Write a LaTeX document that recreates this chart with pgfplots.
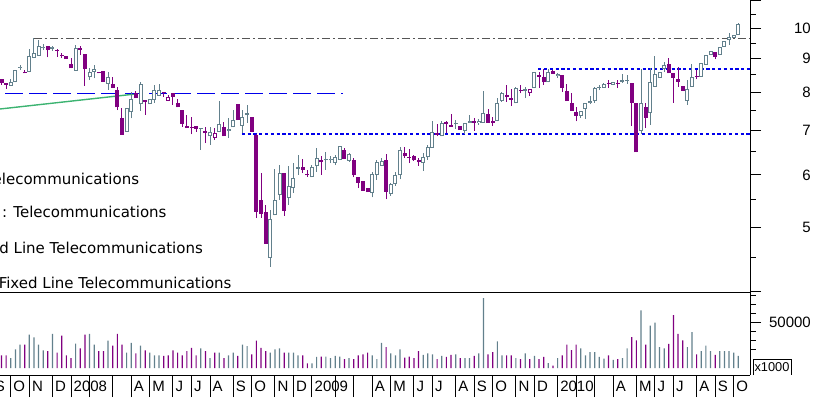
\documentclass[border=0pt]{standalone}
\usepackage{pgfplots}
\pgfplotsset{compat=1.18}
\usepackage{pgfplotstable}
\usepackage{fontspec}
\setmainfont{Liberation Sans}
\newfontfamily\legendfont{DejaVu Sans}
\definecolor{cgrey}{RGB}{98,128,140}
\definecolor{cpurp}{RGB}{128,0,128}
\definecolor{cgreen}{RGB}{60,179,113}
\definecolor{cdash}{RGB}{85,85,85}
\definecolor{cblue}{RGB}{0,0,235}

% i = weekly bar index (0 = week of 17 Sep 2007), o h l c = prices, v = volume
% grey hollow (up)
\pgfplotstableread{
i o h l c v
2 8.19 8.37 8.19 8.28 10800
3 8.28 8.65 8.28 8.65 20520
4 8.71 8.80 8.65 8.74 25920
6 8.58 9.29 8.58 9.08 36720
7 9.01 9.66 9.01 9.17 33840
8 9.09 9.60 9.09 9.40 25920
9 9.35 9.46 9.27 9.38 19440
11 9.32 9.40 9.24 9.35 37800
16 8.63 9.44 8.63 9.35 27000
19 8.43 8.70 8.35 8.60 37800
20 8.60 8.80 8.40 8.68 25920
23 8.23 8.60 8.07 8.45 30240
27 6.98 7.57 6.98 7.57 16920
28 7.46 8.02 7.31 7.82 27720
30 7.67 8.30 7.50 8.23 24840
32 7.67 7.82 7.67 7.82 16920
33 7.79 8.21 7.71 8.07 14040
34 7.91 8.23 7.91 8.07 14040
45 6.86 7.10 6.66 6.96 10800
47 6.98 7.75 6.98 7.17 16920
49 7.00 7.31 6.82 7.03 14040
50 7.08 7.52 7.08 7.27 16920
52 7.12 7.52 6.94 7.34 25920
58 4.49 5.31 4.36 5.14 16920
59 5.21 6.12 5.21 5.50 20520
60 5.60 6.21 5.50 6.04 21600
62 5.54 6.18 5.41 5.78 16920
63 5.74 6.25 5.64 5.93 16920
67 5.95 6.21 5.95 6.16 5040
68 6.18 6.58 6.07 6.36 12240
71 6.31 6.40 6.25 6.33 10800
72 6.25 6.43 6.21 6.38 13320
73 6.32 6.64 6.32 6.64 12600
75 6.30 6.48 6.28 6.46 10800
80 5.63 6.07 5.55 6.01 14040
81 6.00 6.31 5.90 6.27 9720
82 6.20 6.36 6.19 6.30 27720
84 5.61 5.84 5.58 5.81 16200
85 5.81 6.07 5.78 6.00 14040
86 5.99 6.62 5.91 6.55 20520
91 6.25 6.47 6.09 6.38 14400
92 6.38 6.66 6.32 6.61 16200
93 6.60 7.25 6.60 6.98 15120
95 6.86 7.25 6.86 7.19 13320
100 7.00 7.20 6.91 7.20 10800
101 7.20 7.40 7.19 7.23 10800
103 7.19 7.30 7.14 7.25 16200
104 7.19 8.04 7.19 7.44 77040
107 7.23 7.84 7.23 7.70 29520
108 7.77 8.02 7.74 7.99 14040
111 7.70 8.14 7.70 8.12 10800
115 8.12 8.58 8.12 8.58 13320
118 8.28 8.69 8.28 8.60 5400
120 8.47 8.57 8.41 8.53 10800
125 7.38 7.50 7.32 7.50 21600
126 7.55 7.72 7.30 7.72 14040
127 7.71 7.91 7.68 7.75 17640
128 7.76 8.16 7.72 8.11 17640
130 8.13 8.27 8.13 8.25 10440
132 8.21 8.30 8.20 8.29 9000
138 6.99 8.69 6.93 7.71 63720
140 7.44 8.71 7.14 8.28 46800
141 8.16 9.09 8.16 8.52 50040
142 8.42 8.58 8.42 8.58 23040
143 8.68 8.90 8.60 8.80 21600
148 7.76 8.35 7.66 8.10 23040
149 8.16 8.82 8.16 8.45 39600
151 8.45 8.85 8.45 8.85 18720
152 8.80 9.11 8.80 9.11 24840
153 9.11 9.24 9.11 9.24 18720
155 9.11 9.38 9.11 9.38 18720
156 9.38 9.58 9.38 9.58 18720
157 9.60 9.84 9.44 9.71 18720
158 9.66 9.77 9.66 9.77 16920
159 9.77 10.20 9.77 10.14 13320
}\tgh
% grey filled
\pgfplotstableread{
i o h l c v
43 7.07 7.07 6.55 7.05 21600
53 7.44 7.66 7.19 7.40 24120
64 6.16 6.43 6.00 6.12 14040
70 6.33 6.49 6.11 6.31 12600
98 7.19 7.27 7.04 7.16 15120
113 8.08 8.16 7.84 8.05 16200
129 8.16 8.22 8.06 8.13 12240
134 8.34 8.52 8.27 8.29 10800
135 8.35 8.51 8.25 8.32 21600
}\tgf
% purple filled (down)
\pgfplotstableread{
i o h l c v
0 8.38 8.38 8.21 8.26 14040
1 8.26 8.27 8.10 8.21 14040
5 8.60 8.65 8.55 8.55 25920
10 9.40 9.40 9.04 9.27 18720
12 9.27 9.30 9.06 9.24 16920
13 9.11 9.17 9.01 9.08 35640
14 9.08 9.08 8.98 8.98 14040
15 8.82 9.02 8.70 8.70 10800
17 9.35 9.40 9.11 9.27 21600
18 9.14 9.14 8.19 8.67 36720
21 8.60 8.60 8.55 8.55 18720
22 8.63 8.63 8.30 8.30 18720
24 8.23 8.45 8.13 8.13 24840
25 8.07 8.16 7.52 7.59 37800
26 7.31 7.57 6.90 6.90 25920
29 7.97 8.04 7.84 7.84 16200
31 7.79 7.79 7.40 7.73 19440
35 8.01 8.02 7.88 7.97 13320
37 7.97 7.97 7.66 7.88 19440
38 7.72 7.82 7.59 7.59 16920
39 7.52 7.52 7.10 7.17 14040
40 7.12 7.40 7.06 7.06 18720
41 7.10 7.35 6.91 7.07 22320
42 7.12 7.12 6.98 7.04 14040
44 7.00 7.10 6.70 6.94 18720
48 7.10 7.22 6.86 6.86 10800
51 7.68 7.68 7.26 7.26 13320
54 7.33 7.33 6.98 6.98 15120
55 6.90 6.93 5.16 5.28 30240
56 5.50 6.04 5.17 5.24 22320
57 5.28 5.41 4.72 4.72 18720
61 6.04 6.04 5.20 5.30 16920
65 6.16 6.34 6.04 6.11 14040
66 6.01 6.11 5.96 5.99 5040
69 6.32 6.41 6.00 6.27 12600
74 6.55 6.59 6.34 6.34 9720
76 6.32 6.36 5.95 5.99 9720
77 5.96 5.96 5.73 5.83 14040
78 5.87 5.87 5.68 5.68 15120
79 5.73 5.73 5.65 5.65 16920
83 6.32 6.46 5.51 5.66 23040
87 6.47 6.62 6.36 6.40 11520
88 6.39 6.57 6.25 6.36 12600
89 6.41 6.43 6.30 6.31 10800
90 6.31 6.37 6.20 6.27 18720
94 6.94 7.17 6.87 6.90 9720
96 7.21 7.23 6.95 7.17 12240
97 7.14 7.41 7.10 7.10 14400
99 7.12 7.12 7.02 7.02 10800
102 7.23 7.31 7.00 7.19 13320
105 7.42 7.54 7.19 7.20 15120
106 7.25 7.35 7.12 7.19 17640
109 7.93 8.21 7.74 7.88 14040
110 7.84 8.09 7.64 7.79 14040
112 8.07 8.21 7.97 8.04 9720
116 8.50 8.58 8.12 8.45 9720
117 8.43 8.68 8.21 8.28 12240
119 8.62 8.65 8.53 8.53 2520
121 8.50 8.50 8.02 8.12 14040
122 8.04 8.24 7.76 7.76 25920
123 7.72 7.97 7.50 7.50 19800
124 7.47 7.61 7.23 7.38 25920
131 8.26 8.34 8.13 8.23 14040
133 8.27 8.34 8.13 8.24 9720
136 8.27 8.27 7.11 7.71 34200
137 7.71 7.71 6.49 6.49 30600
139 7.61 7.71 7.06 7.32 25920
144 8.82 9.01 8.55 8.55 26640
145 8.55 8.55 7.72 8.42 58320
146 8.38 8.75 8.16 8.30 37800
147 8.19 8.19 8.04 8.04 30600
150 8.47 8.65 8.37 8.44 15120
154 9.22 9.22 8.98 9.06 14400
}\tpf
% purple hollow
\pgfplotstableread{
i o h l c v
36 7.77 7.93 7.76 7.87 14040
46 6.82 7.06 6.78 6.95 16920
114 7.99 8.09 7.91 8.09 9720
}\tph

\pgfplotsset{
  bars/.style 2 args={forget plot, draw=none, mark=none,
    error bars/.cd, y dir=plus, y explicit, error mark=none,
    error bar style={line width=#2, draw=#1, solid}},
  common/.style={scale only axis, width=750bp, xmin=-0.324, xmax=161.52,
    axis line style={line width=1bp, black, -},
    tick align=outside, major tick length=11bp, minor tick length=5.5bp,
    every tick/.append style={black, line width=1bp},
    yticklabel style={anchor=east, inner sep=0pt, xshift=50bp,
      font=\fontsize{15bp}{18bp}\selectfont}},
}
% wick: low to high
\newcommand{\wicks}[2]{\addplot[bars={#2}{1bp}] table[x=i, y expr={ln(\thisrow{l})},
  y error plus expr={ln(\thisrow{h})-ln(\thisrow{l})}] {#1};}
% body: open to close (at least one pixel)
\newcommand{\bodies}[2]{\addplot[bars={#2}{4bp}] table[x=i,
  y expr={ln(min(\thisrow{o},\thisrow{c}))},
  y error plus expr={max(abs(ln(\thisrow{o})-ln(\thisrow{c})),0.0035)}] {#1};}
% white inside of hollow bodies
\newcommand{\holes}[1]{\addplot[bars={white}{2bp}] table[x=i,
  y expr={ln(min(\thisrow{o},\thisrow{c}))+0.0035},
  y error plus expr={max(abs(ln(\thisrow{o})-ln(\thisrow{c}))-0.007,0.00001)}] {#1};}
\newcommand{\vols}[2]{\addplot[ybar, bar width=1.2bp, bar shift=0pt, fill=#2, draw=none, forget plot]
  table[x=i, y=v] {#1};}
\newcommand{\refline}[5]{\addplot[#1, forget plot] table[row sep=\\, y expr={ln(\thisrow{p})}] {x p\\ #2 #4\\ #3 #5\\};}

\begin{document}
\begin{tikzpicture}[x=1bp, y=1bp]
% ---------- price panel (logarithmic price scale) ----------
\begin{axis}[common, at={(0bp,397bp)}, anchor=north west, height=292bp,
  ymin=1.38379, ymax=2.40112,
  axis x line*=bottom, axis y line*=right, xtick=\empty,
  ytick={1.386294,1.609438,1.791759,1.945910,2.079442,2.197225,2.302585,2.397895},
  yticklabels={{},5,6,7,8,9,10,{}},
  minor ytick={1.504077,1.704748,1.871802,2.014903,2.140066,2.251292,2.351375}]
  \refline{cgreen, line width=1.4bp}{-0.324}{29.24}{7.55}{7.96}
  \refline{cblue, line width=1.4bp, dash pattern=on 18bp off 6bp}{0.755}{73.7}{7.97}{7.97}
  \refline{cdash, line width=1.2bp, dash pattern=on 8bp off 3bp on 2bp off 3bp}{7}{161.52}{9.66}{9.66}
  \refline{cblue, line width=1.2bp, dash pattern=on 3.2bp off 2.6bp}{51.85}{161.52}{6.92}{6.92}
  \refline{cblue, line width=1.2bp, dash pattern=on 3.2bp off 2.6bp}{115.8}{161.52}{8.68}{8.68}
  \wicks{\tgh}{cgrey} \wicks{\tgf}{cgrey} \wicks{\tpf}{cpurp} \wicks{\tph}{cpurp}
  \bodies{\tgh}{cgrey} \bodies{\tgf}{cgrey} \bodies{\tpf}{cpurp} \bodies{\tph}{cpurp}
  \holes{\tgh} \holes{\tph}
\end{axis}
% ---------- volume panel ----------
\begin{axis}[common, at={(0bp,105bp)}, anchor=north west, height=83bp,
  ymin=-7726, ymax=83885, scaled y ticks=false,
  axis x line*=bottom, axis y line*=right, xtick=\empty,
  ytick={50000}, yticklabels={50000},
  minor ytick={20000,30000,40000,60000,70000,80000}]
  \vols{\tgh}{cgrey} \vols{\tgf}{cgrey} \vols{\tpf}{cpurp} \vols{\tph}{cpurp}
\end{axis}
% ---------- month scale ----------
\begin{axis}[scale only axis, width=750bp, height=22bp, at={(0bp,22bp)}, anchor=north west,
  xmin=-0.324, xmax=161.52, ymin=0, ymax=1,
  axis line style={draw=none}, ytick=\empty, major tick length=0pt,
  xtick={2,6,11,15,19,24,28,32,37,41,45,50,54,59,63,67,72,76,80,84,89,93,98,102,106,111,115,120,124,128,132,137,141,145,150,154,158},
  xticklabels={O,N,D,2008,{},{},A,M,J,J,A,S,O,N,D,2009,{},{},A,M,J,J,A,S,O,N,D,2010,{},{},A,M,J,J,A,S,O},
  xmajorgrids, grid style={black, line width=1bp},
  xticklabel style={anchor=base west, inner sep=0pt, xshift=2.5bp, yshift=5.5bp,
    font=\fontsize{15bp}{18bp}\selectfont}]
  \addplot[draw=none, mark=none, forget plot] coordinates {(0,0.5) (1,0.5)};
\end{axis}
\node[anchor=base west, inner sep=0pt, font=\fontsize{15bp}{18bp}\selectfont] at (-5.3,5.5) {S};
% ---------- legend texts (cut at the left edge, as in the original) ----------
\begin{scope}[every node/.style={anchor=base east, inner sep=0pt,
    font=\legendfont\fontsize{15bp}{17bp}\selectfont}]
  \node at (139.3,212.7) {Telecommunications};
  \node at (166.7,179.3) {: Telecommunications};
  \node at (203,143.7) {Fixed Line Telecommunications};
  \node at (231.7,108.7) {Fixed Line Telecommunications};
\end{scope}
% ---------- x1000 box ----------
\draw[line width=1bp] (753,22) -- (753,38) -- (791,38) -- (791,22);
\node[inner sep=0pt, font=\fontsize{12.8bp}{15bp}\selectfont] at (772,30.3) {x1000};
\pgfresetboundingbox
\path[use as bounding box] (0,0) rectangle (817,397);
\end{tikzpicture}
\end{document}
